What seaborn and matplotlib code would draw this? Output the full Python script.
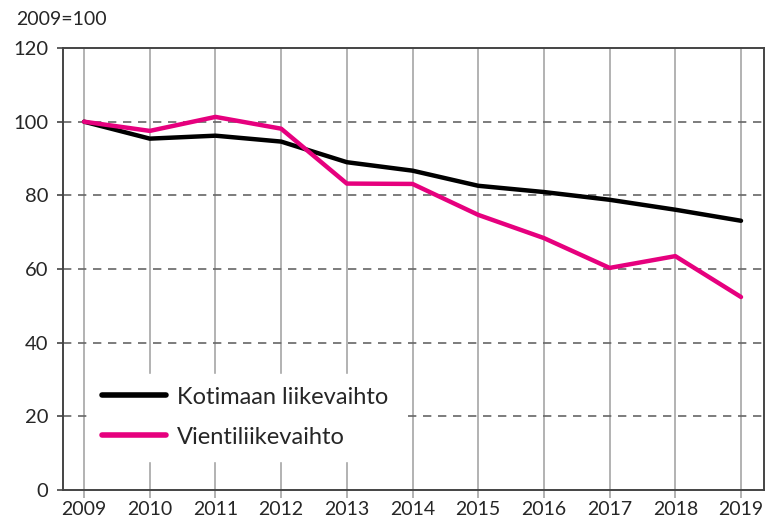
import matplotlib
matplotlib.use("Agg")
import matplotlib.pyplot as plt
import seaborn as sns
import pandas as pd

years = [2009, 2010, 2011, 2012, 2013, 2014, 2015, 2016, 2017, 2018, 2019]
kotimaan = [100, 95.4, 96.2, 94.6, 89.0, 86.7, 82.6, 80.9, 78.8, 76.1, 73.1]
vienti = [100, 97.5, 101.3, 98.1, 83.2, 83.1, 74.7, 68.4, 60.3, 63.5, 52.4]
series_names = ["Kotimaan liikevaihto", "Vientiliikevaihto"]

df = pd.DataFrame({
    "Vuosi": years * 2,
    "Arvo": kotimaan + vienti,
    "Sarja": [series_names[0]] * len(years) + [series_names[1]] * len(years),
})

sns.set_style("white")
plt.rcParams["font.family"] = ["Lato", "DejaVu Sans"]

fig = plt.figure(figsize=(7.65, 5.26), dpi=100)
ax = fig.add_axes([0.0824, 0.0684, 0.9163, 0.8403])

# vertical year lines
for yr in years:
    ax.axvline(yr, color="#a6a6a6", lw=1.2, zorder=0)
# dashed horizontal grid
for v in [20, 40, 60, 80, 100]:
    ax.axhline(v, color="#666666", lw=1.2, ls=(0, (5, 4)), zorder=0)

sns.lineplot(data=df, x="Vuosi", y="Arvo", hue="Sarja",
             palette=["#000000", "#e6007e"], linewidth=3.2, ax=ax,
             zorder=3, legend=True)

ax.set_xlim(2008.68, 2019.35)
ax.set_ylim(0, 120)
ax.set_yticks([0, 20, 40, 60, 80, 100, 120])
ax.set_xticks(years)
ax.set_xlabel("")
ax.set_ylabel("")
ax.tick_params(axis="y", labelsize=14.5, length=4.5, width=1.2, color="#444444",
               left=True, pad=6, direction="out")
ax.tick_params(axis="x", labelsize=14, length=6, width=1.2, color="#a6a6a6",
               bottom=True, pad=2, direction="out")
for s in ax.spines.values():
    s.set_color("#444444")
    s.set_linewidth(1.4)

leg = ax.legend(loc="lower left", bbox_to_anchor=(0.02, 0.04), frameon=True,
                fontsize=17, handlelength=2.7, handletextpad=0.5,
                labelspacing=0.8, borderpad=0.55, fancybox=False)
leg.get_frame().set_facecolor("white")
leg.get_frame().set_edgecolor("white")
leg.get_frame().set_alpha(1)
leg.set_zorder(5)
for line in leg.get_lines():
    line.set_linewidth(4)
    line.set_solid_capstyle("round")

fig.text(0.021, 0.963, "2009=100", fontsize=14, ha="left", va="center")

fig.savefig("out.png", dpi=100)
